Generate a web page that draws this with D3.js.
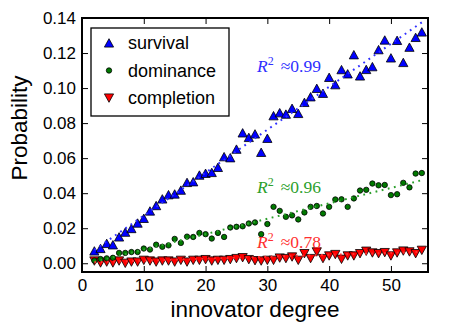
<!DOCTYPE html>
<meta charset="utf-8">
<style>
body { margin: 0; background: #fff; }
.axis text { font: 17px "Liberation Sans", Arial, sans-serif; fill: #000; }
.axis path { display: none; }
.axis line { stroke: #000; }
.label { font: 22.5px "Liberation Sans", Arial, sans-serif; }
.legend text { font: 18px "Liberation Sans", Arial, sans-serif; }
.r2 { font: 17.5px "Liberation Serif", "DejaVu Serif", serif; }
</style>
<svg class="chart"></svg>
<script src="https://d3js.org/d3.v7.min.js"></script>
<script>

var degree = [2,3,4,5,6,7,8,9,10,11,12,13,14,15,16,17,18,19,20,21,22,23,24,25,26,27,28,
  29,30,31,32,33,34,35,36,37,38,39,40,41,42,43,44,45,46,47,48,49,50,51,52,53,54,55];

var survival = [0.0070,0.0084,0.0113,0.0105,0.0150,0.0177,0.0198,0.0229,
  0.0256,0.0298,0.0329,0.0367,0.0391,0.0395,0.0417,0.0461,0.0465,0.0503,
  0.0513,0.0518,0.0547,0.0608,0.0602,0.0651,0.0744,0.0718,0.0738,0.0633,
  0.0713,0.0842,0.0859,0.0851,0.0884,0.0855,0.0918,0.0950,0.0998,0.0970,
  0.1061,0.1019,0.1105,0.1081,0.1190,0.1069,0.1106,0.1122,0.1219,0.1274,
  0.1172,0.1272,0.1146,0.1233,0.1289,0.1320];

var dominance = [0.0015,0.0024,0.0028,0.0031,0.0059,0.0059,0.0064,0.0064,
  0.0084,0.0078,0.0106,0.0094,0.0102,0.0139,0.0116,0.0152,0.0150,0.0173,
  0.0166,0.0141,0.0173,0.0150,0.0204,0.0208,0.0211,0.0227,0.0233,0.0166,
  0.0224,0.0322,0.0299,0.0265,0.0273,0.0250,0.0290,0.0322,0.0327,0.0284,
  0.0322,0.0364,0.0365,0.0322,0.0370,0.0415,0.0419,0.0455,0.0445,0.0447,
  0.0389,0.0394,0.0459,0.0433,0.0512,0.0515];

var completion = [0.0013,0.0002,0.0007,0.0002,0.0013,0.0000,0.0007,0.0007,
  0.0017,0.0013,0.0007,0.0013,0.0013,0.0007,0.0017,0.0007,0.0017,0.0017,
  0.0021,0.0013,0.0017,0.0017,0.0021,0.0027,0.0032,0.0021,0.0015,0.0013,
  0.0017,0.0017,0.0030,0.0027,0.0036,0.0017,0.0055,0.0027,0.0065,0.0027,
  0.0042,0.0050,0.0023,0.0042,0.0042,0.0055,0.0069,0.0059,0.0055,0.0061,
  0.0042,0.0059,0.0070,0.0065,0.0055,0.0074];

// fitted lines, end points
var fitX = [2, 55];
var survivalFit = [0.0076, 0.1375];
var dominanceFit = [0.0008, 0.0474];
var completionFit = [0.0006, 0.0065];

var seriesNames = ["survival", "dominance", "completion"];
var r2Values = ["0.99", "0.96", "0.78"];
var xTicks = [0, 10, 20, 30, 40, 50];
var yTicks = [0, 0.02, 0.04, 0.06, 0.08, 0.10, 0.12, 0.14];

var width = 453, height = 333;
var margin = {top: 18, right: 25, bottom: 61, left: 82};

var x = d3.scaleLinear().domain([0, 56]).range([margin.left, width - margin.right]);
var y = d3.scaleLinear().domain([-0.005, 0.14]).range([height - margin.bottom, margin.top]);

var svg = d3.select(".chart")
    .attr("width", width)
    .attr("height", height);

var triUp = "M0,-4.3L4.6,4.1L-4.6,4.1Z";
var triDown = "M0,4.3L4.6,-4.1L-4.6,-4.1Z";

// axes with inward ticks on all sides
svg.append("g").attr("class", "axis")
    .attr("transform", "translate(0," + y.range()[0] + ")")
    .call(d3.axisBottom(x).tickValues(xTicks).tickSize(-6).tickPadding(7).tickFormat(d3.format("d")));
svg.append("g").attr("class", "axis")
    .attr("transform", "translate(0," + y.range()[1] + ")")
    .call(d3.axisTop(x).tickValues(xTicks).tickSize(-6).tickFormat(""));
svg.append("g").attr("class", "axis")
    .attr("transform", "translate(" + x.range()[0] + ",0)")
    .call(d3.axisLeft(y).tickValues(yTicks).tickSize(-6).tickPadding(6).tickFormat(d3.format(".2f")));
svg.append("g").attr("class", "axis")
    .attr("transform", "translate(" + x.range()[1] + ",0)")
    .call(d3.axisRight(y).tickValues(yTicks).tickSize(-6).tickFormat(""));

var pts = function(vals) { return degree.map(function(d, i) { return [d, vals[i]]; }); };

svg.append("g").selectAll("path")
    .data(pts(completion))
  .enter().append("path")
    .attr("d", triDown)
    .attr("transform", function(d) { return "translate(" + x(d[0]) + "," + y(d[1]) + ")"; })
    .attr("fill", "#ff0000").attr("stroke", "#000").attr("stroke-width", 0.8);

svg.append("g").selectAll("circle")
    .data(pts(dominance))
  .enter().append("circle")
    .attr("cx", function(d) { return x(d[0]); })
    .attr("cy", function(d) { return y(d[1]); })
    .attr("r", 2.7)
    .attr("fill", "#007a00").attr("stroke", "#000").attr("stroke-width", 0.8);

svg.append("g").selectAll("path")
    .data(pts(survival))
  .enter().append("path")
    .attr("d", triUp)
    .attr("transform", function(d) { return "translate(" + x(d[0]) + "," + y(d[1]) + ")"; })
    .attr("fill", "#0000ff").attr("stroke", "#000").attr("stroke-width", 0.8);

var line = d3.line().x(function(d) { return x(d[0]); }).y(function(d) { return y(d[1]); });
var fits = [[survivalFit, "#3030ff"], [dominanceFit, "#2ca02c"], [completionFit, "#ff3030"]];
fits.forEach(function(f) {
  svg.append("path")
      .attr("d", line(fitX.map(function(d, i) { return [d, f[0][i]]; })))
      .attr("fill", "none")
      .attr("stroke", f[1])
      .attr("stroke-width", 2)
      .attr("stroke-dasharray", "1.8,4.5");
});

// R^2 labels
var r2y = [72, 192.5, 247.5];
r2Values.forEach(function(v, i) {
  var t = svg.append("text").attr("class", "r2")
      .attr("x", 257).attr("y", r2y[i])
      .attr("fill", fits[i][1]);
  t.append("tspan").attr("font-style", "italic").text("R");
  t.append("tspan").attr("font-size", "12px").attr("dy", -7).text("2");
  t.append("tspan").attr("dy", 7).attr("dx", 7).text("\u2248" + v);
});

// frame
svg.append("rect")
    .attr("x", x.range()[0]).attr("y", y.range()[1])
    .attr("width", x.range()[1] - x.range()[0])
    .attr("height", y.range()[0] - y.range()[1])
    .attr("fill", "none").attr("stroke", "#000").attr("stroke-width", 2);

// legend
var legend = svg.append("g").attr("class", "legend");
legend.append("rect")
    .attr("x", 91).attr("y", 28).attr("width", 138).attr("height", 88)
    .attr("fill", "#fff").attr("stroke", "#000").attr("stroke-width", 1.3);
var legendMarks = [
  function(g) { g.append("path").attr("d", triUp).attr("fill", "#0000ff"); },
  function(g) { g.append("circle").attr("r", 2.7).attr("fill", "#007a00"); },
  function(g) { g.append("path").attr("d", triDown).attr("fill", "#ff0000"); }
];
seriesNames.forEach(function(name, i) {
  var g = legend.append("g").attr("transform", "translate(0," + (43 + i * 27.5) + ")");
  var m = g.append("g").attr("transform", "translate(109,0)")
      .attr("stroke", "#000").attr("stroke-width", 0.8);
  legendMarks[i](m);
  g.append("text").attr("x", 128).attr("dy", ".35em").text(name);
});

// axis labels
svg.append("text").attr("class", "label")
    .attr("x", 255).attr("y", 317)
    .attr("text-anchor", "middle")
    .text("innovator degree");
svg.append("text").attr("class", "label")
    .attr("transform", "translate(27," + 128 + ") rotate(-90)")
    .attr("text-anchor", "middle")
    .text("Probability");

</script>
